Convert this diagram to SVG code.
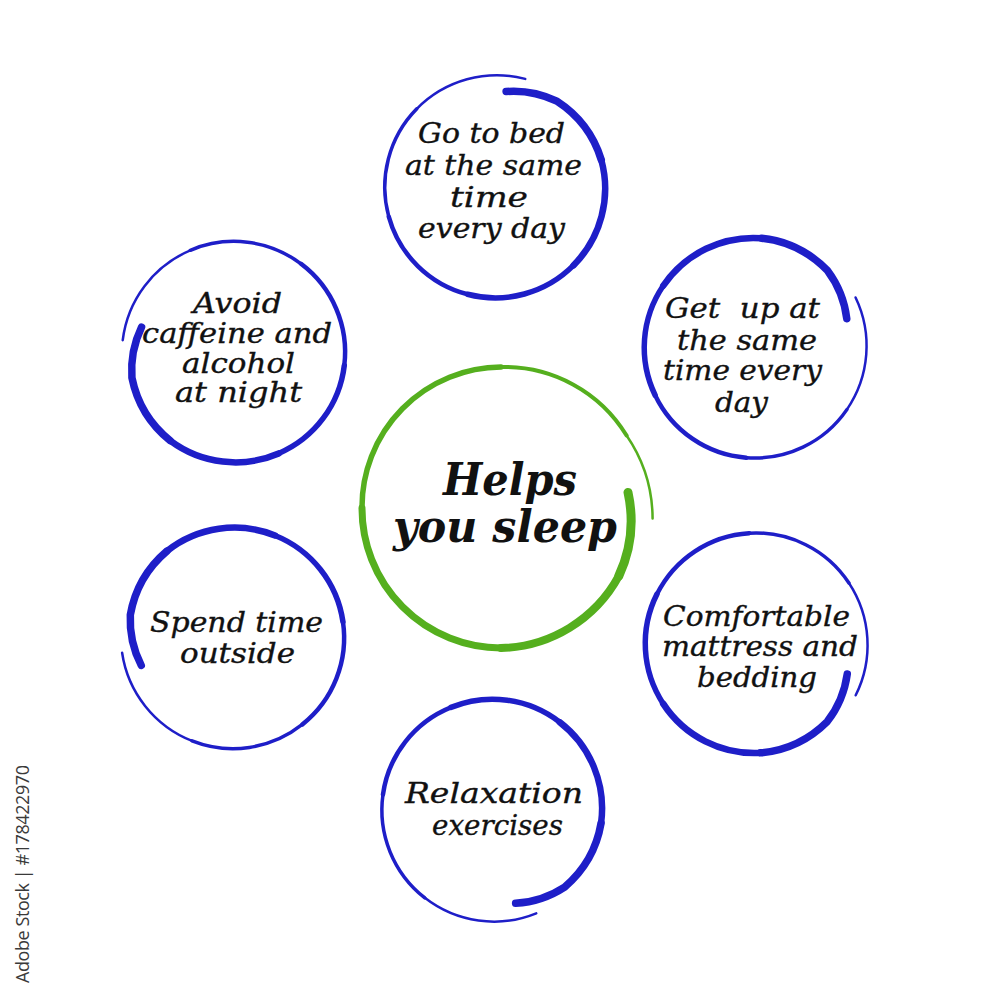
<svg xmlns="http://www.w3.org/2000/svg" xmlns:xlink="http://www.w3.org/1999/xlink" width="1000" height="1000" viewBox="0 0 1000 1000">
<style>
.t{font-family:"DejaVu Serif","Liberation Serif",serif;font-style:italic;font-size:27px;fill:#111;stroke:#111;stroke-width:0.35px;text-anchor:middle}
.h{font-size:44px;font-weight:bold;stroke-width:0}
.wm{font-family:"Open Sans","Noto Sans",sans-serif;font-size:18px;fill:#3a3a3a}
</style>
<defs>
<g id="brush" fill="none" stroke="#1e1ec8" stroke-linecap="round">
<path d="M113 0 A112.5 112.5 0 0 1 56 97" stroke-width="2.5"/>
<path d="M56 97 A111.5 111.5 0 0 1 -55.5 96.1" stroke-width="3.5"/>
<path d="M-55.5 96.1 A110.5 110.5 0 0 1 -110 0" stroke-width="4.5"/>
<path d="M-110 0 A110 110 0 0 1 -54.75 -94.83" stroke-width="5.5"/>
<path d="M-54.75 -94.83 A109 109 0 0 1 54.5 -94.4" stroke-width="6.5"/>
<path d="M54.5 -94.4 A108 108 0 0 1 99.6 -36.3 A100 100 0 0 1 95.8 15.2" stroke-width="7.5"/>
</g>
</defs>
<rect width="1000" height="1000" fill="#fff"/>
<g id="connectors"/>
<g id="center">
<g fill="none" stroke="#55af1e" stroke-linecap="round">
<path d="M628 492.4 A132 132 0 0 1 618.8 576" stroke-width="9"/>
<path d="M618.8 576 A138 138 0 0 1 501 648" stroke-width="8"/>
<path d="M501 648 A139.5 139.5 0 0 1 362 508" stroke-width="7"/>
<path d="M362 508 A140 140 0 0 1 501 367" stroke-width="5.5"/>
<path d="M501 367 A143 143 0 0 1 626.6 435.5" stroke-width="4"/>
<path d="M626.6 435.5 A148 148 0 0 1 652.6 518.6" stroke-width="2.5"/>
</g>
<text class="t h" x="510" y="495" textLength="134" lengthAdjust="spacingAndGlyphs">Helps</text>
<text class="t h" x="505" y="542" textLength="224" lengthAdjust="spacingAndGlyphs">you sleep</text>
</g>
<g id="bed">
<use xlink:href="#brush" href="#brush" transform="translate(496,188) rotate(-75) scale(1,-1)"/>
<text class="t" x="491.5" y="143" textLength="147" lengthAdjust="spacingAndGlyphs">Go to bed</text>
<text class="t" x="493.5" y="175" textLength="177" lengthAdjust="spacingAndGlyphs">at the same</text>
<text class="t" x="489" y="207" textLength="78" lengthAdjust="spacingAndGlyphs">time</text>
<text class="t" x="491.5" y="238" textLength="147" lengthAdjust="spacingAndGlyphs">every day</text>
</g>
<g id="getup">
<use xlink:href="#brush" href="#brush" transform="translate(754,347) rotate(-26)"/>
<text class="t" x="742.5" y="318" textLength="155" lengthAdjust="spacingAndGlyphs" style="white-space:pre">Get  up at</text>
<text class="t" x="747" y="350" textLength="140" lengthAdjust="spacingAndGlyphs">the same</text>
<text class="t" x="742.5" y="380" textLength="159" lengthAdjust="spacingAndGlyphs">time every</text>
<text class="t" x="741.5" y="412" textLength="53" lengthAdjust="spacingAndGlyphs">day</text>
</g>
<g id="mattress">
<use xlink:href="#brush" href="#brush" transform="translate(755,644) rotate(27) scale(1,-1)"/>
<text class="t" x="756.5" y="626" textLength="187" lengthAdjust="spacingAndGlyphs">Comfortable</text>
<text class="t" x="760" y="656" textLength="196" lengthAdjust="spacingAndGlyphs">mattress and</text>
<text class="t" x="757" y="687" textLength="120" lengthAdjust="spacingAndGlyphs">bedding</text>
</g>
<g id="relax">
<use xlink:href="#brush" href="#brush" transform="translate(493,809) rotate(67.5)"/>
<text class="t" x="494" y="803" textLength="178" lengthAdjust="spacingAndGlyphs">Relaxation</text>
<text class="t" x="497.5" y="835" textLength="131" lengthAdjust="spacingAndGlyphs">exercises</text>
</g>
<g id="outside">
<use xlink:href="#brush" href="#brush" transform="translate(234,637) rotate(172) scale(1,-1)"/>
<text class="t" x="236.5" y="632" textLength="173" lengthAdjust="spacingAndGlyphs">Spend time</text>
<text class="t" x="237.5" y="663" textLength="115" lengthAdjust="spacingAndGlyphs">outside</text>
</g>
<g id="caffeine">
<use xlink:href="#brush" href="#brush" transform="translate(235,353) rotate(186.5)"/>
<text class="t" x="237.5" y="313" textLength="89" lengthAdjust="spacingAndGlyphs">Avoid</text>
<text class="t" x="237" y="343" textLength="190" lengthAdjust="spacingAndGlyphs">caffeine and</text>
<text class="t" x="238.5" y="373" textLength="113" lengthAdjust="spacingAndGlyphs">alcohol</text>
<text class="t" x="238.5" y="402" textLength="127" lengthAdjust="spacingAndGlyphs">at night</text>
</g>
<text class="wm" transform="translate(28.5,983) rotate(-90)" textLength="218">Adobe Stock | #178422970</text>
</svg>
